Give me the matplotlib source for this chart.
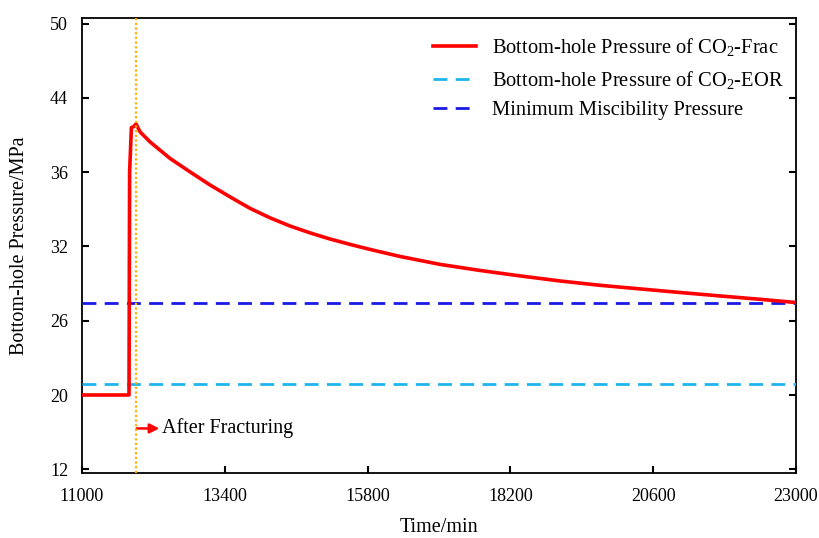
import numpy as np
import matplotlib
matplotlib.use("Agg")
import matplotlib.pyplot as plt

plt.rcParams['font.family'] = ['Liberation Serif', 'DejaVu Serif']
plt.rcParams['mathtext.default'] = 'regular'

# ---- data ----
time_frac = [11000, 11780, 11790, 11800, 11830, 11870, 11908, 11975, 12143, 12479,
             12815, 13151, 13487, 13824, 14160, 14496, 14832, 15168, 15504, 15840,
             16345, 17017, 17689, 18361, 19034, 19706, 20378, 21050, 21723, 22395,
             23000]
pressure_frac = [20.0, 20.0, 20.0, 36.0, 40.8, 40.9, 41.2, 40.34, 39.26, 37.48,
                 36.03, 35.31, 34.67, 34.05, 33.54, 33.10, 32.73, 32.40, 32.11, 31.76,
                 31.19, 30.55, 30.06, 29.62, 29.21, 28.86, 28.57, 28.28, 28.00, 27.73,
                 27.47]
p_eor = 20.9
p_mmp = 27.4
t_fracture = 11900

y_tick_labels = [12, 20, 26, 32, 36, 44, 50]
x_ticks = [11000, 13400, 15800, 18200, 20600, 23000]

legend_labels = ['Bottom-hole Pressure of CO$_2$-Frac',
                 'Bottom-hole Pressure of CO$_2$-EOR',
                 'Minimum Miscibility Pressure']

# ---- evenly spaced tick scale (labels placed at equal distance) ----
tk = np.array(y_tick_labels, float)
ps = np.arange(len(tk), dtype=float)

def fwd(v):
    v = np.asarray(v, float)
    out = np.interp(v, tk, ps)
    out = np.where(v < tk[0], (v - tk[0]) / (tk[1] - tk[0]), out)
    out = np.where(v > tk[-1], ps[-1] + (v - tk[-1]) / (tk[-1] - tk[-2]), out)
    return out

def inv(p):
    p = np.asarray(p, float)
    out = np.interp(p, ps, tk)
    out = np.where(p < 0, tk[0] + p * (tk[1] - tk[0]), out)
    out = np.where(p > ps[-1], tk[-1] + (p - ps[-1]) * (tk[-1] - tk[-2]), out)
    return out

FS = 14.5
TFS = 13

fig = plt.figure(figsize=(8.19, 5.38), dpi=100)
ax = fig.add_axes([82/819, 1-473/538, (796-82)/819, (473-18)/538])
ax.set_yscale('function', functions=(fwd, inv))

ax.plot(time_frac, pressure_frac, color='#FF0000', lw=2.6, solid_joinstyle='round',
        label=legend_labels[0], zorder=4)
ax.axhline(p_eor, color='#1EB4EC', lw=2.0, linestyle=(0, (5, 3)), label=legend_labels[1], zorder=3)
ax.axhline(p_mmp, color='#1A1AE6', lw=2.0, linestyle=(0, (5, 3)), label=legend_labels[2], zorder=3)
ax.axvline(t_fracture, color='#FFB000', lw=1.6, linestyle=(0, (1, 1.1)), zorder=5)

ax.annotate('', xy=(12300, 16.4), xytext=(11920, 16.4),
            arrowprops=dict(arrowstyle='-|>', color='#FF0000', lw=1.8,
                            mutation_scale=14, shrinkA=0, shrinkB=0))
ax.text(12345, 16.4, 'After Fracturing', fontsize=FS, va='center', ha='left')

ax.set_xlim(11000, 23000)
ax.set_ylim(11.6, 50.45)
ax.set_xticks(x_ticks)
ax.set_xticklabels([str(v) for v in x_ticks])
ax.set_yticks(y_tick_labels)
ax.set_yticklabels([str(v) for v in y_tick_labels])
ax.yaxis.set_minor_locator(matplotlib.ticker.NullLocator())
ax.tick_params(axis='both', direction='in', length=5, width=1.5, labelsize=TFS)
ax.tick_params(axis='y', right=True, pad=10)
ax.tick_params(axis='x', pad=11)
for s in ax.spines.values():
    s.set_linewidth(1.3)

ax.set_xlabel('Time/min', fontsize=FS, labelpad=9)
ax.set_ylabel('Bottom-hole Pressure/MPa', fontsize=FS, labelpad=15)

ax.legend(loc='upper right', frameon=False, fontsize=14.8, handlelength=2.1,
          handletextpad=0.75, labelspacing=0.5, bbox_to_anchor=(1.008, 1.0))

fig.savefig('out.png', dpi=100)
